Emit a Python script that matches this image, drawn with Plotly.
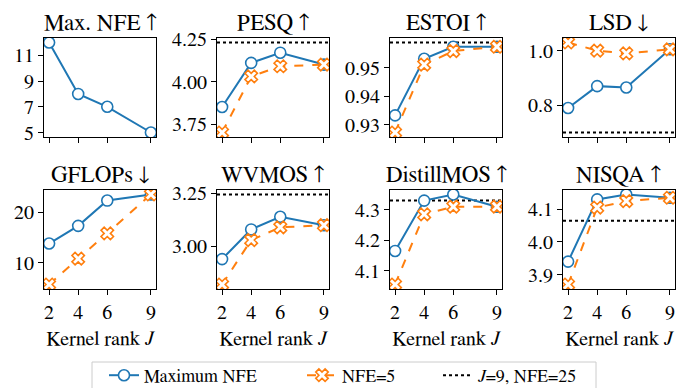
import plotly.graph_objects as go

# ---------------- data ----------------
kernel_rank = [2, 4, 6, 9]
panel_titles = ["Max. NFE ↑", "PESQ ↑", "ESTOI ↑", "LSD ↓",
                "GFLOPs ↓", "WVMOS ↑", "DistillMOS ↑", "NISQA ↑"]

max_nfe      = [12, 8, 7, 5]
pesq_max     = [3.85, 4.11, 4.17, 4.10]
pesq_nfe5    = [3.70, 4.03, 4.09, 4.10]
pesq_ref     = 4.23
estoi_max    = [0.9332, 0.9531, 0.9573, 0.9573]
estoi_nfe5   = [0.9272, 0.9510, 0.9558, 0.9573]
estoi_ref    = 0.9588
lsd_max      = [0.79, 0.87, 0.865, 1.005]
lsd_nfe5     = [1.03, 1.00, 0.99, 1.005]
lsd_ref      = 0.70
gflops_max   = [13.8, 17.3, 22.3, 23.5]
gflops_nfe5  = [5.7, 10.8, 15.8, 23.5]
wvmos_max    = [2.94, 3.08, 3.14, 3.10]
wvmos_nfe5   = [2.82, 3.03, 3.09, 3.10]
wvmos_ref    = 3.245
dmos_max     = [4.165, 4.330, 4.350, 4.310]
dmos_nfe5    = [4.055, 4.285, 4.310, 4.310]
dmos_ref     = 4.330
nisqa_max    = [3.94, 4.13, 4.145, 4.135]
nisqa_nfe5   = [3.87, 4.105, 4.125, 4.135]
nisqa_ref    = 4.065

series_max  = [max_nfe, pesq_max, estoi_max, lsd_max, gflops_max, wvmos_max, dmos_max, nisqa_max]
series_nfe5 = [None, pesq_nfe5, estoi_nfe5, lsd_nfe5, gflops_nfe5, wvmos_nfe5, dmos_nfe5, nisqa_nfe5]
ref_values  = [None, pesq_ref, estoi_ref, lsd_ref, None, wvmos_ref, dmos_ref, nisqa_ref]

ytickvals = [[5, 7, 9, 11], [3.75, 4.00, 4.25], [0.93, 0.94, 0.95], [0.8, 1.0],
             [10, 20], [3.00, 3.25], [4.1, 4.2, 4.3], [3.9, 4.0, 4.1]]
ytickfmt = ["d", ".2f", ".2f", ".1f", "d", ".2f", ".1f", ".1f"]

legend_names = ["Maximum NFE", "NFE=5", "<i>J</i>=9, NFE=25"]
xlabel = "Kernel rank <i>J</i>"

# ---------------- layout geometry ----------------
W, H = 691, 388
col_px = [(44, 156), (217, 329), (390, 502), (563, 675)]
row_px = [(38, 137), (190, 289)]
legend_left_px = [104, 302, 438]

BLUE = "#1f77b4"
ORANGE = "#ff7f0e"
FONT = "FreeSerif, Liberation Serif, Noto Serif, DejaVu Serif, serif"
TICK_SIZE = 20
TITLE_SIZE = 23
XLABEL_SIZE = 20
LEGEND_SIZE = 18

fig = go.Figure()
layout = dict(
    width=W, height=H,
    margin=dict(l=0, r=0, t=0, b=0, autoexpand=False),
    paper_bgcolor="white", plot_bgcolor="white",
    font=dict(family=FONT, size=TICK_SIZE, color="black"),
    showlegend=True,
)
for j, lk in enumerate(["legend", "legend2", "legend3"]):
    layout[lk] = dict(orientation="h", x=legend_left_px[j] / W, y=1 - 357 / H,
                      xanchor="left", yanchor="top", borderwidth=0,
                      bgcolor="rgba(0,0,0,0)", font=dict(family=FONT, size=LEGEND_SIZE))
annotations = []
shapes = [dict(type="rect", xref="paper", yref="paper", x0=92 / W, x1=596 / W,
               y0=1 - 400 / H, y1=1 - 362 / H, line=dict(color="#cccccc", width=1),
               fillcolor="white", layer="below")]

for i in range(8):
    r, c = divmod(i, 4)
    k = i + 1
    xa = "x" if k == 1 else f"x{k}"
    ya = "y" if k == 1 else f"y{k}"
    xdom = [col_px[c][0] / W, col_px[c][1] / W]
    ydom = [1 - row_px[r][1] / H, 1 - row_px[r][0] / H]

    vals = list(series_max[i])
    if series_nfe5[i] is not None:
        vals += series_nfe5[i]
    if ref_values[i] is not None:
        vals.append(ref_values[i])
    lo, hi = min(vals), max(vals)
    pad = 0.05 * (hi - lo)

    first = (i == 1)
    fig.add_trace(go.Scatter(
        x=kernel_rank, y=series_max[i], xaxis=xa, yaxis=ya, mode="lines+markers",
        name=legend_names[0], showlegend=(i == 0), legend="legend",
        line=dict(color=BLUE, width=2),
        marker=dict(symbol="circle", size=11, color="white", line=dict(color=BLUE, width=1.6)),
    ))
    if series_nfe5[i] is not None:
        fig.add_trace(go.Scatter(
            x=kernel_rank, y=series_nfe5[i], xaxis=xa, yaxis=ya, mode="lines+markers",
            name=legend_names[1], showlegend=first, legend="legend2",
            line=dict(color=ORANGE, width=2, dash="dash"),
            marker=dict(symbol="x", size=11, color="white", line=dict(color=ORANGE, width=1.6)),
        ))
    if ref_values[i] is not None:
        shapes.append(dict(type="line", xref=f"{xa} domain", yref=ya, x0=0, x1=1,
                           y0=ref_values[i], y1=ref_values[i],
                           line=dict(color="black", width=2, dash="dot"), layer="below"))
        if first:
            fig.add_trace(go.Scatter(
                x=[None], y=[None], xaxis=xa, yaxis=ya, mode="lines",
                name=legend_names[2], showlegend=True, legend="legend3",
                line=dict(color="black", width=2, dash="dot"),
            ))

    axis_common = dict(showline=True, linecolor="black", linewidth=1.2, mirror=True,
                       ticks="outside", ticklen=5, tickwidth=1, tickcolor="black",
                       showgrid=False, zeroline=False)
    layout["xaxis" if k == 1 else f"xaxis{k}"] = dict(
        domain=xdom, anchor=ya, range=[1.65, 9.35], tickvals=kernel_rank,
        showticklabels=(r == 1), tickfont=dict(size=TICK_SIZE),
        title=dict(text=xlabel, font=dict(size=XLABEL_SIZE), standoff=8) if r == 1 else None,
        **axis_common)
    layout["yaxis" if k == 1 else f"yaxis{k}"] = dict(
        domain=ydom, anchor=xa, range=[lo - pad, hi + pad], tickvals=ytickvals[i],
        tickformat=ytickfmt[i], tickfont=dict(size=TICK_SIZE), **axis_common)

    annotations.append(dict(text=panel_titles[i], xref="paper", yref="paper",
                            x=(xdom[0] + xdom[1]) / 2, y=ydom[1], xanchor="center",
                            yanchor="bottom", yshift=1, showarrow=False,
                            font=dict(size=TITLE_SIZE, family=FONT)))

layout["annotations"] = annotations
layout["shapes"] = shapes
fig.update_layout(**layout)
fig.write_html("out.html")
